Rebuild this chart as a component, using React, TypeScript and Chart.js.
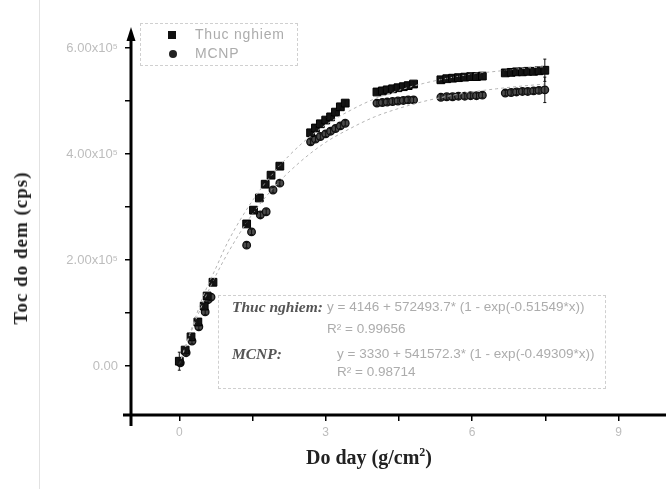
import React, { useEffect, useRef } from "react";
import { Chart, registerables } from "chart.js";
Chart.register(...registerables);

// Experimental (Thuc nghiem) points
const expX = [0.0, 0.12, 0.24, 0.38, 0.51, 0.57, 0.69,
  1.38, 1.52, 1.64, 1.76, 1.88, 2.06,
  2.69, 2.79, 2.89, 3.0, 3.1, 3.2, 3.3, 3.4,
  4.05, 4.16, 4.26, 4.37, 4.48, 4.59, 4.69, 4.8,
  5.36, 5.48, 5.6, 5.72, 5.85, 5.97, 6.09, 6.21,
  6.68, 6.8, 6.91, 7.03, 7.14, 7.26, 7.37, 7.49];
const expY = [9000, 30000, 55000, 83000, 113000, 132000, 158000,
  268000, 294000, 317000, 343000, 360000, 377000,
  440000, 449000, 457000, 464000, 470000, 479000, 489000, 496000,
  517000, 519000, 521000, 523000, 525000, 527000, 529000, 532000,
  540000, 542000, 543000, 544000, 545000, 546000, 546000, 547000,
  553000, 554000, 555000, 555000, 556000, 556000, 557000, 558000];
const expErr = [17000, 5000, 5000, 5000, 5000, 5000, 5000,
  5000, 5000, 5000, 5000, 5000, 5000,
  5000, 5000, 5000, 5000, 5000, 5000, 5000, 5000,
  5000, 5000, 5000, 5000, 5000, 5000, 5000, 5000,
  5000, 5000, 5000, 5000, 5000, 5000, 5000, 5000,
  5000, 5000, 5000, 5000, 5000, 5000, 5000, 21000];

// MCNP points
const mcnpX = [0.02, 0.14, 0.26, 0.4, 0.53, 0.59, 0.65,
  1.38, 1.48, 1.66, 1.78, 1.92, 2.06,
  2.69, 2.79, 2.89, 3.0, 3.1, 3.2, 3.3, 3.4,
  4.05, 4.16, 4.26, 4.37, 4.48, 4.59, 4.69, 4.8,
  5.36, 5.48, 5.6, 5.72, 5.85, 5.97, 6.09, 6.21,
  6.68, 6.8, 6.91, 7.03, 7.14, 7.26, 7.37, 7.49];
const mcnpY = [6000, 25000, 47000, 74000, 102000, 125000, 130000,
  228000, 253000, 285000, 291000, 332000, 345000,
  423000, 428000, 433000, 438000, 443000, 448000, 453000, 458000,
  496000, 497000, 498000, 499000, 500000, 501000, 502000, 502000,
  507000, 508000, 508000, 509000, 509000, 510000, 510000, 511000,
  515000, 516000, 517000, 518000, 518000, 519000, 520000, 521000];
const mcnpErr = [5000, 5000, 5000, 5000, 5000, 5000, 5000,
  5000, 5000, 5000, 5000, 5000, 5000,
  5000, 5000, 5000, 5000, 5000, 5000, 5000, 5000,
  5000, 5000, 5000, 5000, 5000, 5000, 5000, 5000,
  5000, 5000, 5000, 5000, 5000, 5000, 5000, 5000,
  5000, 5000, 5000, 5000, 5000, 5000, 5000, 24000];

// Fitted curves
const fitX = [0, 0.25, 0.5, 0.75, 1, 1.5, 2, 2.5, 3, 3.5, 4, 4.5, 5, 5.5, 6, 6.5, 7, 7.5];
const fitExpY = [4000, 70000, 134000, 185000, 235000, 312000, 372000, 419000, 455000, 482000, 504000, 520000, 533000, 543000, 551000, 556000, 561000, 565000];
const fitMcnpY = [3000, 66000, 122000, 171000, 214000, 287000, 343000, 387000, 422000, 448000, 470000, 486000, 499000, 509000, 517000, 523000, 528000, 532000];

const xTicks = [0, 1.5, 3, 4.5, 6, 7.5, 9];
const xLabels: Record<string, string> = { "0": "0", "3": "3", "6": "6", "9": "9" };
const yTicks = [0, 100000, 200000, 300000, 400000, 500000, 600000];
const yLabels: Record<string, string> = { "0": "0.00", "200000": "2.00x10⁵", "400000": "4.00x10⁵", "600000": "6.00x10⁵" };

const eqExp = "y = 4146 + 572493.7* (1 - exp(-0.51549*x))";
const r2Exp = "R² = 0.99656";
const eqMcnp = "y = 3330 + 541572.3* (1 - exp(-0.49309*x))";
const r2Mcnp = "R² = 0.98714";

const zip = (xs: number[], ys: number[]) => xs.map((x, i) => ({ x, y: ys[i] }));

const axesPlugin = {
  id: "axesDraw",
  afterDatasetsDraw(chart: any) {
    const { ctx } = chart;
    chart.data.datasets.forEach((ds: any) => {
      if (!ds.errors) return;
      const xs = chart.scales.x, ys = chart.scales.y;
      ctx.save();
      ctx.strokeStyle = "#111";
      ctx.lineWidth = 1;
      ds.data.forEach((p: any, i: number) => {
        const e = ds.errors[i];
        const px = xs.getPixelForValue(p.x);
        const y1 = ys.getPixelForValue(p.y - e);
        const y2 = ys.getPixelForValue(p.y + e);
        ctx.beginPath();
        ctx.moveTo(px, y1); ctx.lineTo(px, y2);
        ctx.moveTo(px - 1.5, y1); ctx.lineTo(px + 1.5, y1);
        ctx.moveTo(px - 1.5, y2); ctx.lineTo(px + 1.5, y2);
        ctx.stroke();
      });
      ctx.restore();
    });
  },
  afterDraw(chart: any) {
    const { ctx, chartArea } = chart;
    const { left, bottom, top } = chartArea;
    ctx.save();
    ctx.strokeStyle = "#000";
    ctx.lineWidth = 3;
    ctx.beginPath();
    ctx.moveTo(left, top + 4);
    ctx.lineTo(left, bottom + 11);
    ctx.moveTo(left - 8, bottom);
    ctx.lineTo(chart.width, bottom);
    ctx.stroke();
    ctx.fillStyle = "#000";
    ctx.beginPath();
    ctx.moveTo(left, top - 8);
    ctx.lineTo(left - 4.5, top + 6);
    ctx.lineTo(left + 4.5, top + 6);
    ctx.closePath();
    ctx.fill();
    ctx.restore();
  },
};

export default function App() {
  const ref = useRef<HTMLCanvasElement | null>(null);
  useEffect(() => {
    document.body.style.margin = "0";
    if (!ref.current) return;
    const chart = new Chart(ref.current, {
      type: "scatter",
      data: {
        datasets: [
          {
            label: "fitExp",
            type: "line",
            data: zip(fitX, fitExpY),
            borderColor: "#b4b4b4",
            borderWidth: 1,
            borderDash: [3, 3],
            pointRadius: 0,
            cubicInterpolationMode: "monotone",
            fill: false,
          } as any,
          {
            label: "fitMcnp",
            type: "line",
            data: zip(fitX, fitMcnpY),
            borderColor: "#b4b4b4",
            borderWidth: 1,
            borderDash: [3, 3],
            pointRadius: 0,
            cubicInterpolationMode: "monotone",
            fill: false,
          } as any,
          {
            label: "Thuc nghiem",
            data: zip(expX, expY),
            pointStyle: "rect",
            pointRadius: 5.5,
            backgroundColor: "#151515",
            borderColor: "#000",
            borderWidth: 1,
            errors: expErr,
          } as any,
          {
            label: "MCNP",
            data: zip(mcnpX, mcnpY),
            pointStyle: "circle",
            pointRadius: 3.8,
            backgroundColor: "#4a4a4a",
            borderColor: "#111",
            borderWidth: 1.3,
            errors: mcnpErr,
          } as any,
        ],
      },
      options: {
        responsive: false,
        animation: false,
        layout: { padding: { top: 35, right: 0, left: 0, bottom: 0 } },
        plugins: { legend: { display: false }, tooltip: { enabled: false } },
        scales: {
          x: {
            type: "linear",
            min: -0.99,
            max: 9.84,
            afterFit: (s: any) => { s.height = 74; s.paddingLeft = 0; s.paddingRight = 0; },
            afterBuildTicks: (s: any) => { s.ticks = xTicks.map((v) => ({ value: v })); },
            ticks: {
              callback: (v: any) => xLabels[String(v)] ?? "",
              color: "#bdbdbd",
              font: { family: "Liberation Sans", size: 12 },
              padding: 4,
              maxRotation: 0,
              autoSkip: false,
            },
            grid: { drawOnChartArea: false, drawTicks: true, tickLength: 6, color: "#000", lineWidth: 1.5 },
            border: { display: false },
          },
          y: {
            type: "linear",
            min: -92500,
            max: 624500,
            afterFit: (s: any) => { s.width = 131; s.paddingTop = 0; s.paddingBottom = 0; },
            afterBuildTicks: (s: any) => { s.ticks = yTicks.map((v) => ({ value: v })); },
            ticks: {
              callback: (v: any) => yLabels[String(v)] ?? "",
              color: "#bdbdbd",
              font: { family: "Liberation Sans", size: 13 },
              padding: 7,
              autoSkip: false,
            },
            grid: { drawOnChartArea: false, drawTicks: true, tickLength: 6, color: "#000", lineWidth: 1.5 },
            border: { display: false },
          },
        },
      },
      plugins: [axesPlugin],
    });
    return () => chart.destroy();
  }, []);

  const faint = "#acacac";
  const sans = "Liberation Sans";
  const serif = "Liberation Serif";
  return (
    <div style={{ position: "relative", width: 666, height: 489, background: "#fff", overflow: "hidden" }}>
      <canvas ref={ref} width={666} height={489} style={{ display: "block" }} />
      <div style={{ position: "absolute", left: 39, top: 0, width: 1, height: 489, background: "#e2e2e2" }} />
      {/* legend */}
      <div style={{ position: "absolute", left: 140, top: 23, width: 158, height: 43, border: "1px dashed #d0d0d0", boxSizing: "border-box" }}>
        <div style={{ position: "absolute", left: 27, top: 7, width: 8, height: 8, background: "#111" }} />
        <div style={{ position: "absolute", left: 54, top: 2, fontFamily: sans, fontSize: 14, letterSpacing: 0.8, color: faint, whiteSpace: "nowrap" }}>Thuc nghiem</div>
        <div style={{ position: "absolute", left: 28, top: 26, width: 8, height: 8, borderRadius: "50%", background: "#222" }} />
        <div style={{ position: "absolute", left: 54, top: 21, fontFamily: sans, fontSize: 14, letterSpacing: 0.8, color: faint }}>MCNP</div>
      </div>
      {/* equation box */}
      <div style={{ position: "absolute", left: 218, top: 295, width: 388, height: 94, border: "1px dashed #cfcfcf", boxSizing: "border-box" }}>
        <div style={{ position: "absolute", left: 13, top: 2, fontFamily: serif, fontSize: 15.5, fontWeight: "bold", fontStyle: "italic", color: "#555", whiteSpace: "nowrap" }}>Thuc nghiem:</div>
        <div style={{ position: "absolute", left: 108, top: 3, fontFamily: sans, fontSize: 13.5, color: faint, whiteSpace: "nowrap" }}>{eqExp}</div>
        <div style={{ position: "absolute", left: 108, top: 25, fontFamily: sans, fontSize: 13.5, color: faint, whiteSpace: "nowrap" }}>{r2Exp}</div>
        <div style={{ position: "absolute", left: 13, top: 49, fontFamily: serif, fontSize: 15.5, fontWeight: "bold", fontStyle: "italic", color: "#555" }}>MCNP:</div>
        <div style={{ position: "absolute", left: 118, top: 50, fontFamily: sans, fontSize: 13.5, color: faint, whiteSpace: "nowrap" }}>{eqMcnp}</div>
        <div style={{ position: "absolute", left: 118, top: 68, fontFamily: sans, fontSize: 13.5, color: faint, whiteSpace: "nowrap" }}>{r2Mcnp}</div>
      </div>
      {/* axis titles */}
      <div style={{ position: "absolute", left: 306, top: 445, fontFamily: serif, fontSize: 20, fontWeight: "bold", color: "#222", whiteSpace: "nowrap" }}>
        Do day (g/cm<sup style={{ fontSize: 12 }}>2</sup>)
      </div>
      <div style={{ position: "absolute", left: 21, top: 248, transform: "translate(-50%, -50%) rotate(-90deg)", fontFamily: serif, fontSize: 19, fontWeight: "bold", letterSpacing: 1, color: "#222", whiteSpace: "nowrap" }}>
        Toc do dem (cps)
      </div>
    </div>
  );
}
